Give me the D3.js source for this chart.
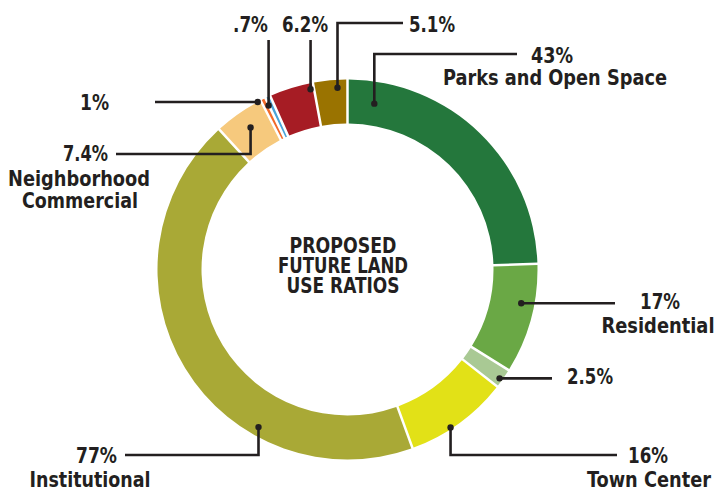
<!DOCTYPE html>
<html>
<head>
<meta charset="utf-8">
<script src="https://cdn.jsdelivr.net/npm/d3@7"></script>
<style>
  body { margin: 0; background: #fff; }
  text { font-family: "Liberation Sans Narrow", "DejaVu Sans Condensed", sans-serif; font-weight: bold; fill: #231f20; }
</style>
</head>
<body>
<div id="wrapper"></div>
<script>
// slices clockwise from 12 o'clock
const categories = ["Parks and Open Space", "Residential", "", "Town Center", "Institutional",
  "Neighborhood Commercial", "", "", "", ""];
const pctLabels = ["43%", "17%", "2.5%", "16%", "77%", "7.4%", "1%", ".7%", "6.2%", "5.1%"];
// share of the ring each slice takes in the picture (degrees)
const sliceShares = [88.3, 33.7, 6, 32, 157.5, 15.3, 1.6, 1.6, 13.5, 10.5];
const colors = ["#24773c", "#6aa845", "#a9c994", "#e2e117", "#a9a936",
  "#f6c97d", "#f26a2a", "#4aa3d8", "#a61c24", "#9a7300"];
const centerTitle = ["PROPOSED", "FUTURE LAND", "USE RATIOS"];

const dimensions = { width: 718, height: 491, cx: 347.5, cy: 269.5, outer: 190, inner: 146 };
const fontSize = 22;

// where each leader dot sits (fraction along slice, radius) and where its text goes (w = drawn width)
const layout = [
  { t: 0.104, r: 168, path: (p) => [[p[0], 54], [517, 54]],
    lines: [{ x: 552, y: 63, a: "middle", w: 42 }, { x: 555, y: 85, a: "middle", name: true, w: 224 }] },
  { t: 0.377, r: 177, path: (p) => [[615, p[1]]],
    lines: [{ x: 660, y: 309, a: "middle", w: 40 }, { x: 658, y: 333, a: "middle", name: true, w: 113 }] },
  { t: 0.6, r: 187, path: (p) => [[552, p[1]]],
    lines: [{ x: 567, y: 384, a: "start", w: 46 }] },
  { t: 0.59, r: 188.6, path: (p) => [[p[0], 455], [617, 455]],
    lines: [{ x: 648, y: 463, a: "middle", w: 40 }, { x: 649, y: 487, a: "middle", name: true, w: 124 }] },
  { t: 0.314, r: 181, path: (p) => [[p[0], 455], [125, 455]],
    lines: [{ x: 117, y: 463, a: "end", w: 41 }, { x: 90, y: 487, a: "middle", name: true, w: 121 }] },
  { t: 0.536, r: 172, path: (p) => [[p[0], 154], [116, 154]],
    lines: [{ x: 108, y: 161, a: "end", w: 45 }, { x: 79, y: 186, a: "middle", text: "Neighborhood", w: 142 },
      { x: 80, y: 208, a: "middle", text: "Commercial", w: 116 }] },
  { t: -0.625, r: 190, path: (p) => [[155, p[1]]],
    lines: [{ x: 109, y: 110, a: "end", w: 29 }] },
  { t: -0.06, r: 182, path: (p) => [[p[0], 40]],
    lines: [{ x: 268, y: 32, a: "end", w: 35 }] },
  { t: 0.92, r: 184, path: (p) => [[p[0], 40]],
    lines: [{ x: 305, y: 32, a: "middle", w: 46 }] },
  { t: 0.7, r: 182, path: (p) => [[p[0], 23], [403, 23]],
    lines: [{ x: 409, y: 32, a: "start", w: 46 }] },
];
const titleWidths = [107, 130, 113];

const svg = d3.select("#wrapper")
  .append("svg")
  .attr("width", dimensions.width)
  .attr("height", dimensions.height);

const bounds = svg.append("g")
  .attr("transform", `translate(${dimensions.cx},${dimensions.cy})`);

const total = d3.sum(sliceShares);
const angle = d3.scaleLinear().domain([0, total]).range([0, 2 * Math.PI]);

const pie = d3.pie().sort(null).value((d) => d)
  .startAngle(angle(0)).endAngle(angle(total));
const arcs = pie(sliceShares);

const gap = 2.5;
const padRadius = 168;
const arcGen = d3.arc()
  .innerRadius(dimensions.inner)
  .outerRadius(dimensions.outer)
  .padRadius(padRadius)
  .padAngle(gap / padRadius);

bounds.selectAll("path.slice")
  .data(arcs)
  .join("path")
  .attr("class", "slice")
  .attr("d", arcGen)
  .attr("fill", (d, i) => colors[i]);

// squeeze a text to the width it has in the picture
const fitText = (sel, w) => {
  sel.attr("textLength", w).attr("lengthAdjust", "spacingAndGlyphs");
};

// leaders
const line = d3.line();
arcs.forEach((a, i) => {
  const L = layout[i];
  const ang = a.startAngle + L.t * (a.endAngle - a.startAngle);
  const dotAbs = [L.r * Math.sin(ang) + dimensions.cx, -L.r * Math.cos(ang) + dimensions.cy];
  const pts = [dotAbs].concat(L.path(dotAbs));

  svg.append("path")
    .attr("d", line(pts))
    .attr("fill", "none")
    .attr("stroke", "#231f20")
    .attr("stroke-width", 2.6);

  svg.append("circle")
    .attr("cx", dotAbs[0])
    .attr("cy", dotAbs[1])
    .attr("r", 3.2)
    .attr("fill", "#231f20");

  L.lines.forEach((ln) => {
    svg.append("text")
      .attr("x", ln.x)
      .attr("y", ln.y)
      .attr("text-anchor", ln.a)
      .style("font-size", `${fontSize}px`)
      .text(ln.text || (ln.name ? categories[i] : pctLabels[i]))
      .call(fitText, ln.w);
  });
});

svg.append("g")
  .selectAll("text")
  .data(centerTitle)
  .join("text")
  .attr("x", 343)
  .attr("y", (d, i) => 253 + i * 20)
  .attr("text-anchor", "middle")
  .style("font-size", `${fontSize}px`)
  .text((d) => d)
  .each(function (d, i) {
    d3.select(this).call(fitText, titleWidths[i]);
  });
</script>
</body>
</html>
